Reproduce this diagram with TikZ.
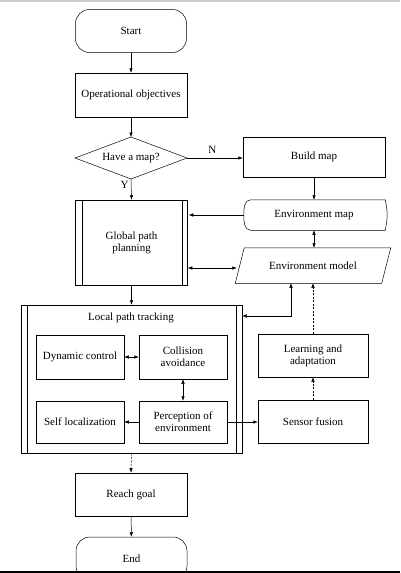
\documentclass[tikz,border=0pt]{standalone}
\usepackage{fontspec}
\setmainfont{Liberation Serif}
\usetikzlibrary{arrows.meta}

\begin{document}
\begin{tikzpicture}[x=1pt, y=-1pt,
    line width=0.5pt,
    every node/.style={font=\fontsize{11}{12}\selectfont},
    box/.style={draw, minimum width=112pt, minimum height=44pt, align=center, inner sep=1pt},
    inbox/.style={draw, minimum width=88pt, minimum height=44pt, align=center, inner sep=1pt},
    termbox/.style={draw, rounded corners=14pt, minimum width=111pt, minimum height=43pt},
    arr/.style={-{Latex[length=4.5pt, width=3.5pt]}},
    darr/.style={{Latex[length=4.5pt, width=3.5pt]}-{Latex[length=4.5pt, width=3.5pt]}},
    dots/.style={dash pattern=on 2pt off 1.5pt}]

    \useasboundingbox (0,0) rectangle (400,573);
    \clip (0,0) rectangle (400,573);

    % ================= 边框线 =================
    \draw[gray!40, line width=2pt] (0,1) -- (400,1);
    \draw[line width=2.5pt] (0,572) -- (400,572);

    % ================= 左列: 主流程 =================
    \node[termbox] (start) at (131,31) {Start};
    \node[box] (opobj) at (131,95) {Operational objectives};

    % 判断框
    \coordinate (mapC) at (131,158);
    \draw (75,158) -- (131,137) -- (187,158) -- (131,179) -- cycle;
    \node[minimum width=112pt, minimum height=42pt] (map) at (mapC) {Have a map?};

    % 全局规划 (两侧竖线)
    \node[box, minimum height=85pt] (global) at (131.5,242.5) {Global path\\planning};
    \draw ([xshift=7pt]global.north west) -- ([xshift=7pt]global.south west);
    \draw ([xshift=-6pt]global.north east) -- ([xshift=-6pt]global.south east);

    % ================= 右列: 地图与环境 =================
    \node[draw, minimum width=142pt, minimum height=40pt] (buildmap) at (314,157) {Build map};

    % 环境地图 (左侧圆角)
    \node[minimum width=142pt, minimum height=30pt] (envmap) at (314,215) {Environment map};
    \draw (envmap.north east) -- ([xshift=8pt]envmap.north west)
        to[out=180, in=90] ([xshift=1pt]envmap.west)
        to[out=270, in=180] ([xshift=8pt]envmap.south west)
        -- (envmap.south east) to[bend right=12] (envmap.north east);

    % 环境模型 (平行四边形)
    \node[minimum width=146pt, minimum height=35pt] (envmodel) at (313,265.5) {Environment model};
    \draw ([xshift=-4.5pt]envmodel.south west) -- ([xshift=-4.5pt]envmodel.south east)
        -- ([xshift=4.5pt]envmodel.north east) -- ([xshift=4.5pt]envmodel.north west) -- cycle;

    % ================= 局部路径跟踪 =================
    \node[draw, minimum width=221pt, minimum height=148pt] (localtrack) at (131.5,379) {};
    \draw ([xshift=6pt]localtrack.north west) -- ([xshift=6pt]localtrack.south west);
    \draw ([xshift=-6pt]localtrack.north east) -- ([xshift=-6pt]localtrack.south east);
    \node (localtitle) at (131,318) {Local path tracking};

    \node[inbox] (dynctrl) at (80,357) {Dynamic control};
    \node[inbox] (collision) at (183,357) {Collision\\avoidance};
    \node[inbox, minimum height=42pt] (selfloc) at (80,422) {Self localization};
    \node[inbox, minimum height=42pt] (percept) at (183,422) {Perception of\\environment};

    % 右侧学习与融合
    \node[draw, minimum width=110pt, minimum height=43pt, align=center] (learning) at (313,355.5) {Learning and\\adaptation};
    \node[draw, minimum width=110pt, minimum height=43pt] (sensor) at (313,421.5) {Sensor fusion};

    % ================= 结束 =================
    \node[box, minimum height=43pt] (reach) at (131,494.5) {Reach goal};
    \node[termbox] (end) at (131.5,558.5) {End};

    % ================= 连线 =================
    \draw[arr] (start) -- (opobj);
    \draw[arr] (opobj) -- (131,137);
    \draw[arr] (map.east) -- node[above=1pt, pos=0.45] {N} (map.east -| buildmap.west);
    \draw[arr] (131,179) -- node[left=-1pt, pos=0.3] {Y} (global.north);
    \draw[arr] (buildmap.south) -- (envmap.north);
    \draw[darr] (envmap.south) -- (envmap.south |- envmodel.north);
    \draw[arr] ([xshift=1pt]envmap.west) -- ([xshift=1pt]envmap.west -| global.east);
    \draw[darr] ([xshift=-3pt, yshift=-2.5pt]envmodel.west) -- ([yshift=-2.5pt]envmodel.west -| global.east);
    \draw[arr] (global.south) -- (localtrack.north);

    \draw[darr] ([xshift=-22pt]envmodel.south) |- ([yshift=63pt]localtrack.east);
    \draw[arr, dots] (learning.north) -- (learning.north |- envmodel.south);
    \draw[arr, dots] (sensor.north) -- (learning.south);

    \draw[darr] (dynctrl) -- (collision);
    \draw[darr] (collision) -- (percept);
    \draw[arr] (percept) -- (selfloc);
    \draw[arr] (percept.east) -- (percept.east -| sensor.west);

    \draw[arr, dots] (localtrack.south) -- (reach.north);
    \draw[arr] (reach) -- (end);

\end{tikzpicture}
\end{document}
